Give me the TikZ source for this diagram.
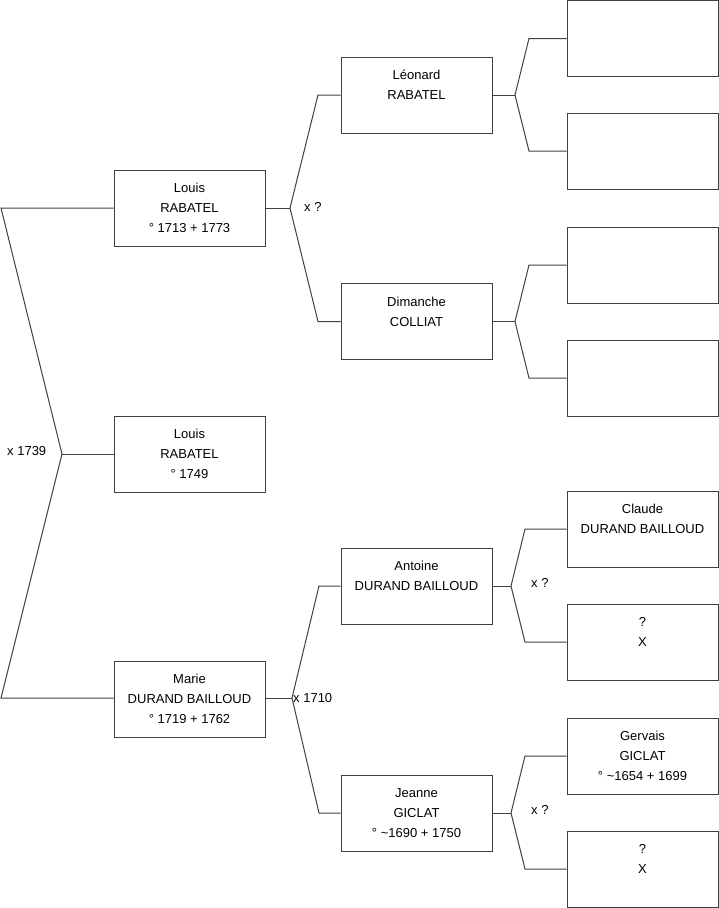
\documentclass[tikz,border=0pt]{standalone}
\usepackage{fontspec}
\setmainfont{Liberation Sans}
\begin{document}
\begin{tikzpicture}[x=1pt,y=-1pt,
  person/.style={draw=black!75,line width=1pt,minimum width=151pt,minimum height=76pt,inner sep=0pt,align=center,font=\fontsize{13}{20}\selectfont},
  link/.style={draw=black!75,line width=1pt},
  lbl/.style={anchor=west,inner sep=0pt,font=\fontsize{13}{16}\selectfont}]
\useasboundingbox (0,0) rectangle (719,908);
% generation 1
\node[person] (L1) at (189.5,208) {Louis\\RABATEL\\° 1713 + 1773};
\node[person] (L2) at (189.5,454) {Louis\\RABATEL\\° 1749};
\node[person] (M) at (189.5,699) {Marie\\DURAND BAILLOUD\\° 1719 + 1762};
% generation 2
\node[person] (Leo) at (416.5,95) {Léonard\\RABATEL\\~};
\node[person] (Dim) at (416.5,321.5) {Dimanche\\COLLIAT\\~};
\node[person] (Ant) at (416.5,586) {Antoine\\DURAND BAILLOUD\\~};
\node[person] (Jea) at (416.5,813) {Jeanne\\GICLAT\\° \textasciitilde 1690 + 1750};
% generation 3
\node[person] (R1) at (642.5,38.5) {};
\node[person] (R2) at (642.5,151) {};
\node[person] (R3) at (642.5,265) {};
\node[person] (R4) at (642.5,378) {};
\node[person] (R5) at (642.5,529) {Claude\\DURAND BAILLOUD\\~};
\node[person] (R6) at (642.5,642) {?\\X\\~};
\node[person] (R7) at (642.5,756) {Gervais\\GICLAT\\° \textasciitilde 1654 + 1699};
\node[person] (R8) at (642.5,869) {?\\X\\~};
% junctions
\coordinate (j0) at (62,454);
\coordinate (j0a) at (1,208);
\coordinate (j0b) at (1,698);
\coordinate (j1) at (290,208);
\coordinate (j1a) at (318,95);
\coordinate (j1b) at (318,321.5);
\coordinate (j2) at (292,698);
\coordinate (j2a) at (319,586);
\coordinate (j2b) at (319,813);
\coordinate (j3) at (515,95);
\coordinate (j3a) at (529,38.5);
\coordinate (j3b) at (529,151);
\coordinate (j4) at (515,321.5);
\coordinate (j4a) at (529,265);
\coordinate (j4b) at (529,378);
\coordinate (j5) at (511,586);
\coordinate (j5a) at (525,529);
\coordinate (j5b) at (525,642);
\coordinate (j6) at (511,813);
\coordinate (j6a) at (525,756);
\coordinate (j6b) at (525,869);
% connectors
\draw[link] (L1.west) -- (j0a) -- (j0) -- (j0b) -- (j0b -| M.west);
\draw[link] (j0) -- (L2.west);
\draw[link] (L1.east) -- (j1);
\draw[link] (Leo.west) -- (j1a) -- (j1) -- (j1b) -- (Dim.west);
\draw[link] (M.east |- j2) -- (j2);
\draw[link] (Ant.west) -- (j2a) -- (j2) -- (j2b) -- (Jea.west);
\draw[link] (Leo.east) -- (j3);
\draw[link] (R1.west) -- (j3a) -- (j3) -- (j3b) -- (R2.west);
\draw[link] (Dim.east) -- (j4);
\draw[link] (R3.west) -- (j4a) -- (j4) -- (j4b) -- (R4.west);
\draw[link] (Ant.east) -- (j5);
\draw[link] (R5.west) -- (j5a) -- (j5) -- (j5b) -- (R6.west);
\draw[link] (Jea.east) -- (j6);
\draw[link] (R7.west) -- (j6a) -- (j6) -- (j6b) -- (R8.west);
% labels
\node[lbl] (t0) at (7,451) {x 1739};
\node[lbl] (t1) at (304,207) {x ?};
\node[lbl] (t2) at (293,698) {x 1710};
\node[lbl] (t3) at (531,583) {x ?};
\node[lbl] (t4) at (531,810) {x ?};
\end{tikzpicture}
\end{document}
